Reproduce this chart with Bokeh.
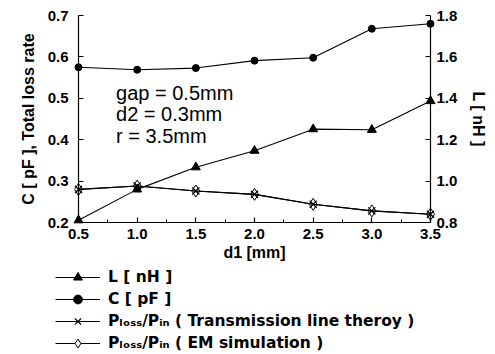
from bokeh.plotting import figure
from bokeh.models import (Range1d, LinearAxis, Legend, LegendItem, FixedTicker, Label,
                          PrintfTickFormatter)
from bokeh.embed import file_html
from bokeh.resources import INLINE

d1 = [0.5, 1.0, 1.5, 2.0, 2.5, 3.0, 3.5]
L_nH = [0.811, 0.960, 1.067, 1.147, 1.251, 1.248, 1.387]
C_pF = [0.575, 0.569, 0.573, 0.591, 0.598, 0.668, 0.680]
loss_tl = [0.280, 0.288, 0.276, 0.268, 0.244, 0.228, 0.220]
loss_em = [0.280, 0.288, 0.276, 0.268, 0.244, 0.228, 0.220]

x_ticks = [0.5, 1.0, 1.5, 2.0, 2.5, 3.0, 3.5]
x_minor = [0.75, 1.25, 1.75, 2.25, 2.75, 3.25]
left_ticks = [0.2, 0.3, 0.4, 0.5, 0.6, 0.7]
right_ticks = [0.8, 1.0, 1.2, 1.4, 1.6, 1.8]

labels = ["L [ nH ]", "C [ pF ]",
          "P\u2097\u2092\u209b\u209b/P\u1d62\u2099 ( Transmission line theroy )",
          "P\u2097\u2092\u209b\u209b/P\u1d62\u2099 ( EM simulation )"]
notes = ["gap = 0.5mm", "d2 = 0.3mm", "r = 3.5mm"]
note_y = [0.514, 0.463, 0.408]

FONT = "Liberation Sans"
W = 490

p = figure(width=W, height=266, output_backend="svg", toolbar_location=None,
           x_range=Range1d(0.5, 3.5), y_range=Range1d(0.2, 0.7),
           min_border_left=78, min_border_right=W - 430, min_border_top=15,
           min_border_bottom=44, outline_line_color=None)
p.extra_y_ranges = {"L": Range1d(0.8, 1.8)}
p.grid.visible = False


def style_axis(ax):
    ax.major_tick_in = 5
    ax.major_tick_out = 0
    ax.minor_tick_in = 3
    ax.minor_tick_out = 0
    ax.axis_line_color = "black"
    ax.axis_line_width = 1.2
    ax.major_tick_line_width = 1.2
    ax.formatter = PrintfTickFormatter(format="%.1f")
    ax.major_label_text_font = FONT
    ax.major_label_text_font_style = "bold"
    ax.major_label_text_font_size = "15px"
    ax.major_label_text_color = "black"
    ax.axis_label_text_font = FONT
    ax.axis_label_text_font_style = "bold"
    ax.axis_label_text_font_size = "16px"
    ax.axis_label_text_color = "black"


xa = p.xaxis[0]
style_axis(xa)
xa.ticker = FixedTicker(ticks=x_ticks, minor_ticks=x_minor)
xa.axis_label = "d1 [mm]"
xa.major_label_standoff = 6
xa.axis_label_standoff = 2

ya = p.yaxis[0]
style_axis(ya)
ya.ticker = FixedTicker(ticks=left_ticks)
ya.axis_label = "C [ pF ], Total loss rate"
ya.major_label_standoff = 10
ya.axis_label_standoff = 8
ya.minor_tick_in = 0

raxis = LinearAxis(y_range_name="L", ticker=FixedTicker(ticks=right_ticks),
                   axis_label="L [ nH ]")
style_axis(raxis)
raxis.minor_tick_in = 0
raxis.major_label_standoff = 6
raxis.axis_label_standoff = 10
p.add_layout(raxis, "right")

lw = 1.1
p.line(d1, L_nH, y_range_name="L", line_color="black", line_width=lw)
p.scatter(d1, L_nH, y_range_name="L", marker="triangle", size=9, color="black", level="overlay")
p.line(d1, C_pF, line_color="black", line_width=lw)
p.scatter(d1, C_pF, marker="circle", size=7, color="black", level="overlay")
p.line(d1, loss_tl, line_color="black", line_width=lw)
p.scatter(d1, loss_tl, marker="x", size=10, line_color="black", line_width=1.3, level="overlay")
p.line(d1, loss_em, line_color="black", line_width=lw)
p.scatter(d1, loss_em, marker="diamond", size=12, line_color="black",
          fill_alpha=0.0, line_width=1.0, level="overlay")

for txt, yy in zip(notes, note_y):
    p.add_layout(Label(x=0.82, y=yy, text=txt, text_font=FONT, text_font_size="20px",
                       text_baseline="middle", text_color="black"))

# legend panel underneath (its sample renderers sit outside the visible ranges)
q = figure(width=W, height=88, output_backend="svg", toolbar_location=None,
           x_axis_type=None, y_axis_type=None, outline_line_color=None,
           min_border=0, min_border_left=0, min_border_right=0,
           min_border_top=0, min_border_bottom=0,
           x_range=Range1d(100, 101), y_range=Range1d(100, 101))
q.grid.visible = False
r1 = q.line(d1, L_nH, line_color="black", line_width=1.0)
m1 = q.scatter(d1, L_nH, marker="triangle", size=7, color="black")
r2 = q.line(d1, C_pF, line_color="black", line_width=1.0)
m2 = q.scatter(d1, C_pF, marker="circle", size=6, color="black")
r3 = q.line(d1, loss_tl, line_color="black", line_width=1.0)
m3 = q.scatter(d1, loss_tl, marker="x", size=9, line_color="black", line_width=1.3)
r4 = q.line(d1, loss_em, line_color="black", line_width=1.0)
m4 = q.scatter(d1, loss_em, marker="diamond", size=9, line_color="black",
               fill_color="white", line_width=1.0)

legend = Legend(items=[
    LegendItem(label=labels[0], renderers=[r1, m1]),
    LegendItem(label=labels[1], renderers=[r2, m2]),
    LegendItem(label=labels[2], renderers=[r3, m3]),
    LegendItem(label=labels[3], renderers=[r4, m4]),
], location=(55, 0), orientation="vertical",
    background_fill_alpha=0.0, border_line_color=None, padding=0, spacing=0,
    label_height=22, glyph_height=22, glyph_width=45, label_standoff=8,
    label_text_font="DejaVu Sans", label_text_font_style="bold",
    label_text_font_size="15.5px", label_text_color="black", margin=0)
q.add_layout(legend, "center")

open("out.html", "w").write(file_html([p, q], INLINE))
